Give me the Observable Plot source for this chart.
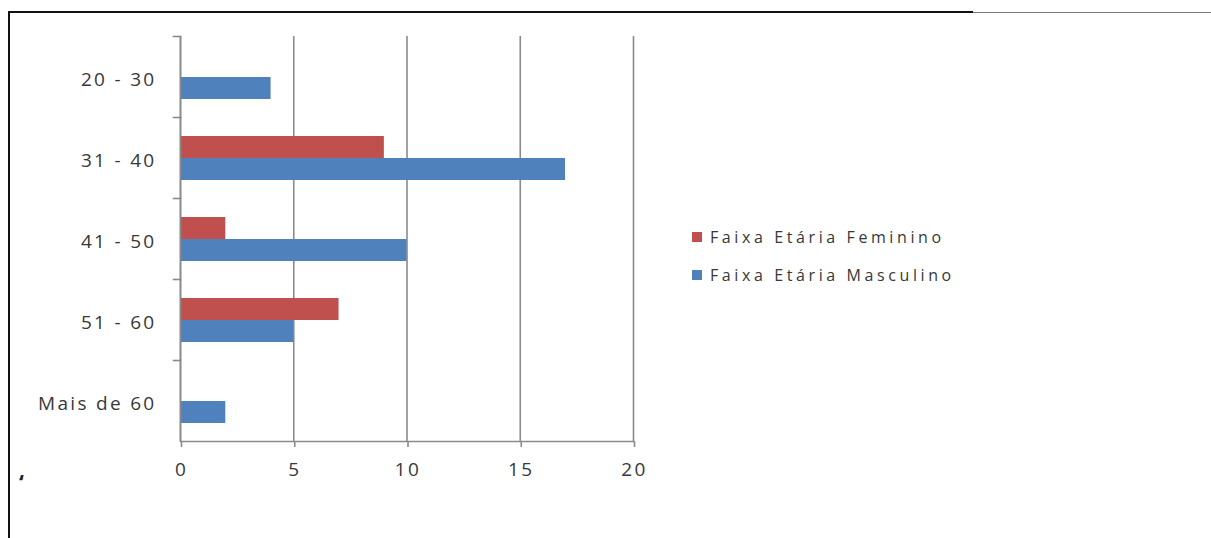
<!DOCTYPE html>
<html>
<head>
<meta charset="utf-8">
<script src="https://cdn.jsdelivr.net/npm/d3@7"></script>
<script src="https://cdn.jsdelivr.net/npm/@observablehq/plot@0.6"></script>
<style>
  html, body { margin: 0; padding: 0; background: #fff; }
  #wrap { position: relative; width: 1211px; height: 538px; background: #fff; overflow: hidden; }
  .edge { position: absolute; }
  #top-edge { left: 8px; top: 11px; width: 965px; height: 2px; background: #111; }
  #top-edge-2 { left: 973px; top: 12px; width: 238px; height: 1px; background: #777; }
  #left-edge { left: 8px; top: 11px; width: 2px; height: 527px; background: #111; }
  #chart { position: absolute; left: 0; top: 0; }
  #chart svg text { letter-spacing: 2.3px; }
  #legend { position: absolute; left: 692px; top: 226px; }
  #legend .lg-swatch { margin-right: 6px; margin-bottom: 15px; }
  #quote { position: absolute; left: 19px; top: 466px; font-family: "Open Sans", sans-serif; font-size: 22px; font-weight: bold; color: #222; }
</style>
</head>
<body>
<div id="wrap">
  <div class="edge" id="top-edge"></div>
  <div class="edge" id="top-edge-2"></div>
  <div class="edge" id="left-edge"></div>
  <div id="chart"></div>
  <div id="legend"></div>
  <div id="quote">‘</div>
</div>
<script>
// Age bands and respondent counts per sex
const categories = ["20 - 30", "31 - 40", "41 - 50", "51 - 60", "Mais de 60"];
const series = ["Faixa Etária Feminino", "Faixa Etária Masculino"];
const feminino = [0, 9, 2, 7, 0];
const masculino = [4, 17, 10, 5, 2];
const xTicks = [0, 5, 10, 15, 20];
const colors = ["#C0504D", "#4F81BD"];

const rows = [];
categories.forEach((c, i) => {
  rows.push({category: c, series: series[0], value: feminino[i]});
  rows.push({category: c, series: series[1], value: masculino[i]});
});

const axisGray = "#8a8a8a";
const textColor = "#383838";
const lastCategory = categories[categories.length - 1];

const chart = Plot.plot({
  width: 1211,
  height: 538,
  marginLeft: 180,
  marginRight: 578,
  marginTop: 36,
  marginBottom: 97,
  style: {background: "transparent", fontFamily: "'Open Sans', sans-serif", fontSize: "19px", color: textColor},
  x: {domain: [0, 20], ticks: xTicks, label: null},
  y: {domain: series, paddingInner: 0, paddingOuter: 0.84, axis: null},
  fy: {domain: categories, padding: 0, label: null},
  color: {domain: series, range: colors},
  marks: [
    Plot.gridX(xTicks, {stroke: axisGray, strokeOpacity: 1, strokeWidth: 1.6}),
    Plot.barX(rows, {x: "value", y: "series", fy: "category", fill: "series"}),
    Plot.ruleX([0], {stroke: axisGray, strokeWidth: 1.6}),
    // short category separators on the left of the value axis
    Plot.frame({anchor: "top", insetLeft: -7, insetRight: 453, stroke: axisGray, strokeWidth: 1.6}),
    // baseline along the bottom of the last band
    Plot.frame({anchor: "bottom", fy: () => lastCategory, stroke: axisGray, strokeWidth: 1.6}),
    Plot.axisX(xTicks, {tickSize: 6, tickPadding: 15, stroke: axisGray, strokeWidth: 1.6, fill: textColor, dx: 1}),
    Plot.axisFy({anchor: "left", tickSize: 0, tickPadding: 24, fill: textColor, dy: 3, label: null})
  ]
});
document.getElementById("chart").appendChild(chart);

const legend = Plot.legend({
  color: {domain: series, range: colors},
  legend: "swatches",
  columns: 1,
  swatchSize: 10,
  className: "lg",
  style: {fontFamily: "'Open Sans', sans-serif", fontSize: "16px", letterSpacing: "3.6px", color: textColor}
});
document.getElementById("legend").appendChild(legend);
</script>
</body>
</html>
